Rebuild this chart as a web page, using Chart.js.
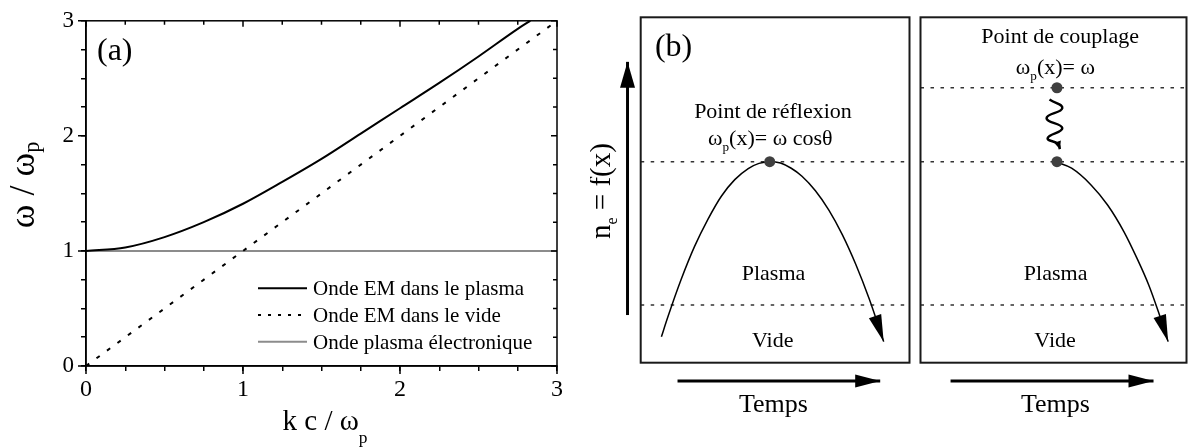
<!DOCTYPE html>
<html><head><meta charset="utf-8">
<script src="https://cdn.jsdelivr.net/npm/chart.js@4.4.1/dist/chart.umd.min.js"></script>
<style>
html,body{margin:0;padding:0;background:#fff;}
body{position:relative;width:1192px;height:447px;overflow:hidden;}
canvas{position:absolute;top:0;}
</style></head><body>
<canvas id="chartA" width="600" height="447" style="left:0;width:600px;height:447px"></canvas>
<canvas id="chartB1" width="325" height="447" style="left:590px;width:325px;height:447px"></canvas>
<canvas id="chartB2" width="277" height="447" style="left:915px;width:277px;height:447px"></canvas>
<script>
// ===== Panel (a): dispersion relations =====
const kPlasma     = [0, 0.25, 0.5, 0.75, 1, 1.25, 1.5, 1.75, 2, 2.25, 2.5, 2.75, 2.83];
const omegaPlasma = [1.00, 1.03, 1.12, 1.25, 1.41, 1.60, 1.80, 2.02, 2.24, 2.46, 2.69, 2.93, 3.00];
const kVide       = [0, 3];
const omegaVide   = [0, 3];
const kElec       = [0, 3];
const omegaElec   = [1, 1];
const seriesNames = ['Onde EM dans le plasma', 'Onde EM dans le vide', 'Onde plasma électronique'];
const rangeA      = [0, 3];
const tickStepA   = 0.25;
const xTitleParts = [['k c / ω'], ['p', 1]];
const yTitleParts = [['ω / ω'], ['p', 1]];
const panelTagA   = '(a)';

// ===== Panel (b): schematic (arbitrary units 0..10 in each box) =====
const reflT = [0.77, 1.00, 1.50, 2.00, 2.50, 3.00, 3.50, 4.00, 4.40, 4.80, 5.20, 5.60, 6.00, 6.50, 7.00, 7.50, 8.00, 8.50, 9.04];
const reflN = [0.75, 1.30, 2.40, 3.36, 4.15, 4.82, 5.30, 5.62, 5.77, 5.82, 5.78, 5.63, 5.40, 4.98, 4.42, 3.71, 2.85, 1.85, 0.61];
const reflPointT = [4.80];
const reflPointN = [5.82];
const reflLevels = [5.82, 1.67];
const coupT = [5.13, 5.68, 6.42, 7.04, 7.65, 8.14, 8.58, 8.94, 9.31];
const coupN = [5.80, 5.63, 5.14, 4.56, 3.79, 3.02, 2.25, 1.48, 0.61];
const coupPointsT = [5.13, 5.13];
const coupPointsN = [7.96, 5.82];
const waveT = [4.85, 5.33, 4.74, 5.33, 4.78, 5.18, 5.24];
const waveN = [7.62, 7.37, 7.08, 6.79, 6.50, 6.33, 6.18];
const coupLevels = [7.96, 5.82, 1.67];
const densAxisT = [-0.49, -0.49];
const densAxisN = [1.38, 8.71];
const timeLeftT = [1.37, 8.91];
const timeRightT = [1.13, 8.76];
const timeAxisN = [-0.53, -0.53];
const panelTagB = '(b)';
const txtRefl = 'Point de réflexion';
const txtCoup = 'Point de couplage';
const reflCondParts = [['ω'], ['p', 1], ['(x)= ω cosθ']];
const coupCondParts = [['ω'], ['p', 1], ['(x)= ω']];
const densLabelParts = [['n'], ['e', 1], [' = f(x)']];
const txtPlasma = 'Plasma', txtVide = 'Vide', txtTemps = 'Temps';

// ===== helpers =====
const FONT = '"Liberation Serif", "Times New Roman", Times, serif';
function drawRich(ctx, parts, x, y, o) {
  const size = o.size, subSize = size * (o.subScale || 0.6), shift = (o.subShift != null ? o.subShift : size * 0.3);
  ctx.save(); ctx.translate(x, y); if (o.rot) ctx.rotate(o.rot);
  ctx.fillStyle = o.color || '#000'; ctx.textBaseline = 'alphabetic'; ctx.textAlign = 'left';
  const w = parts.map(p => { ctx.font = (p[1] ? subSize : size) + 'px ' + FONT; return ctx.measureText(p[0]).width; });
  const total = w.reduce((a, b) => a + b, 0);
  let cx = o.align === 'left' ? 0 : (o.align === 'right' ? -total : -total / 2);
  parts.forEach((p, i) => { ctx.font = (p[1] ? subSize : size) + 'px ' + FONT; ctx.fillText(p[0], cx, p[1] ? shift : 0); cx += w[i]; });
  ctx.restore();
}
const pts = (xs, ys) => xs.map((v, i) => ({ x: v, y: ys[i] }));

// ===== Chart (a) =====
const decorA = {
  id: 'decorA',
  afterDraw(chart) {
    const { ctx, chartArea: a, scales: { x, y } } = chart;
    ctx.save();
    ctx.strokeStyle = '#000'; ctx.lineWidth = 1.5;
    ctx.strokeRect(a.left, a.top, a.right - a.left, a.bottom - a.top);
    ctx.beginPath();
    x.ticks.forEach(t => {
      const p = x.getPixelForValue(t.value), maj = Number.isInteger(t.value);
      ctx.moveTo(p, a.top); ctx.lineTo(p, a.top + (maj ? 6 : 4));
      if (maj) { ctx.moveTo(p, a.bottom); ctx.lineTo(p, a.bottom + 8); }
    });
    y.ticks.forEach(t => {
      const p = y.getPixelForValue(t.value), maj = Number.isInteger(t.value);
      ctx.moveTo(a.right, p); ctx.lineTo(a.right - (maj ? 6 : 4), p);
      if (maj) { ctx.moveTo(a.left, p); ctx.lineTo(a.left - 8, p); }
    });
    ctx.stroke();
    // legend
    const rows = [77.7, 51, 24.3];
    chart.data.datasets.forEach((ds, i) => {
      const yy = a.bottom - rows[i];
      ctx.save();
      ctx.strokeStyle = ds.borderColor; ctx.lineWidth = ds.borderWidth;
      ctx.setLineDash(ds.legendDash || []);
      ctx.beginPath(); ctx.moveTo(a.left + 172, yy); ctx.lineTo(a.left + 221, yy); ctx.stroke();
      ctx.restore();
      ctx.fillStyle = '#000'; ctx.font = '21px ' + FONT; ctx.textBaseline = 'middle'; ctx.textAlign = 'left';
      ctx.fillText(ds.label, a.left + 227, yy + 1.5);
    });
    drawRich(ctx, [[panelTagA]], a.left + 11, a.top + 39.5, { size: 32, align: 'left' });
    drawRich(ctx, xTitleParts, (a.left + a.right) / 2 + 3.5, a.bottom + 64, { size: 29, subScale: 0.6, subShift: 13 });
    drawRich(ctx, yTitleParts, a.left - 52, (a.top + a.bottom) / 2 - 8.5, { size: 36, rot: -Math.PI / 2, subScale: 0.62, subShift: 5 });
    ctx.restore();
  }
};

const axisCommon = (size) => ({
  type: 'linear', min: rangeA[0], max: rangeA[1],
  ticks: { stepSize: tickStepA, autoSkip: false, maxRotation: 0, color: '#000', font: { family: FONT, size: size },
           callback: v => Number.isInteger(v) ? String(v) : '' },
  grid: { drawOnChartArea: false, drawTicks: true, tickLength: 5, color: '#000', lineWidth: 1.5 },
  border: { display: true, color: '#000', width: 1.5 }
});
const xA = axisCommon(24); xA.ticks.padding = 4; xA.afterFit = s => { s.height = 81; };
const yA = axisCommon(23); yA.ticks.padding = 7; yA.afterFit = s => { s.width = 86; };

new Chart(document.getElementById('chartA'), {
  type: 'scatter',
  data: { datasets: [
    { label: seriesNames[0], data: pts(kPlasma, omegaPlasma), showLine: true, borderColor: '#000', backgroundColor: '#000',
      borderWidth: 2, pointRadius: 0, pointHoverRadius: 0, cubicInterpolationMode: 'monotone', legendDash: [] },
    { label: seriesNames[1], data: pts(kVide, omegaVide), showLine: true, borderColor: '#000', backgroundColor: '#000',
      borderWidth: 2, borderDash: [4, 9], pointRadius: 0, pointHoverRadius: 0, legendDash: [3, 7] },
    { label: seriesNames[2], data: pts(kElec, omegaElec), showLine: true, borderColor: '#8c8c8c', backgroundColor: '#8c8c8c',
      borderWidth: 2, pointRadius: 0, pointHoverRadius: 0, legendDash: [] }
  ]},
  options: {
    responsive: false, animation: false, events: [],
    layout: { padding: { top: 16.5, right: 43, left: 0, bottom: 0 } },
    plugins: { legend: { display: false }, tooltip: { enabled: false } },
    scales: { x: xA, y: yA }
  },
  plugins: [decorA]
});

// ===== Charts (b) =====
const lineDs = (xs, ys, extra) => Object.assign({ data: pts(xs, ys), showLine: true, pointRadius: 0, pointHoverRadius: 0,
  borderColor: '#000', backgroundColor: '#000', borderWidth: 1.5, clip: false }, extra || {});
const levelDs = lv => lineDs([0, 10], [lv, lv], { borderDash: [3.5, 6.5], borderColor: '#333', borderWidth: 1.5 });
const dotDs = (xs, ys) => ({ data: pts(xs, ys), showLine: false, pointRadius: 5.5, pointHoverRadius: 5.5,
  pointBackgroundColor: '#404040', backgroundColor: '#404040', pointBorderWidth: 0, borderWidth: 0, clip: false });

function boxChart(id, pad, datasets, texts) {
  return new Chart(document.getElementById(id), {
    type: 'scatter', data: { datasets },
    options: {
      responsive: false, animation: false, events: [],
      layout: { padding: pad },
      plugins: { legend: { display: false }, tooltip: { enabled: false } },
      scales: { x: { type: 'linear', display: false, min: 0, max: 10 }, y: { type: 'linear', display: false, min: 0, max: 10 } }
    },
    plugins: [{
      id: 'boxDecor',
      afterDatasetsDraw(chart) {
        const { ctx, chartArea: a, scales: { x, y } } = chart;
        ctx.save();
        chart.data.datasets.forEach((ds, i) => {
          if (!ds.arrowHead) return;
          const el = chart.getDatasetMeta(i).data;
          const p1 = el[el.length - 1], p0 = el[el.length - 2];
          const ang = Math.atan2(p1.y - p0.y, p1.x - p0.x);
          ctx.save(); ctx.translate(p1.x, p1.y); ctx.rotate(ang);
          ctx.beginPath(); ctx.moveTo(0, 0); ctx.lineTo(-ds.arrowHead.len, ds.arrowHead.w / 2);
          ctx.lineTo(-ds.arrowHead.len, -ds.arrowHead.w / 2); ctx.closePath();
          ctx.fillStyle = ds.borderColor; ctx.fill(); ctx.restore();
        });
        ctx.strokeStyle = '#1a1a1a'; ctx.lineWidth = 2;
        ctx.strokeRect(a.left, a.top, a.right - a.left, a.bottom - a.top);
        texts.forEach(t => drawRich(ctx, t.parts, x.getPixelForValue(t.x), y.getPixelForValue(t.y), t.o));
        ctx.restore();
      }
    }]
  });
}

boxChart('chartB1', { left: 50.7, right: 2.3, top: 17.3, bottom: 84.3 }, [
  dotDs(reflPointT, reflPointN),
  lineDs(reflT, reflN, { cubicInterpolationMode: 'monotone', arrowHead: { len: 27, w: 13 } }),
  levelDs(reflLevels[0]), levelDs(reflLevels[1]),
  lineDs(densAxisT, densAxisN, { borderWidth: 3, arrowHead: { len: 26, w: 15 } }),
  lineDs(timeLeftT, timeAxisN, { borderWidth: 3, arrowHead: { len: 25, w: 13 } })
], [
  { parts: [[panelTagB]], x: 0.53, y: 8.88, o: { size: 32, align: 'left' } },
  { parts: [[txtRefl]], x: 4.92, y: 7.08, o: { size: 22 } },
  { parts: reflCondParts, x: 4.82, y: 6.30, o: { size: 22, subScale: 0.6, subShift: 6 } },
  { parts: [[txtPlasma]], x: 4.94, y: 2.39, o: { size: 22 } },
  { parts: [[txtVide]], x: 4.91, y: 0.46, o: { size: 22 } },
  { parts: [[txtTemps]], x: 4.94, y: -1.42, o: { size: 26 } },
  { parts: densLabelParts, x: -1.13, y: 4.97, o: { size: 29, rot: -Math.PI / 2, subScale: 0.55, subShift: 7 } }
]);

boxChart('chartB2', { left: 4.3, right: 1.5, top: 17.3, bottom: 84.3 }, [
  dotDs(coupPointsT, coupPointsN),
  lineDs(coupT, coupN, { cubicInterpolationMode: 'monotone', arrowHead: { len: 27, w: 13 } }),
  lineDs(waveT, waveN, { tension: 0.5, borderWidth: 2.5, arrowHead: { len: 8, w: 7 } }),
  levelDs(coupLevels[0]), levelDs(coupLevels[1]), levelDs(coupLevels[2]),
  lineDs(timeRightT, timeAxisN, { borderWidth: 3, arrowHead: { len: 25, w: 13 } })
], [
  { parts: [[txtCoup]], x: 5.25, y: 9.25, o: { size: 22 } },
  { parts: coupCondParts, x: 5.07, y: 8.36, o: { size: 22, subScale: 0.6, subShift: 6 } },
  { parts: [[txtPlasma]], x: 5.08, y: 2.39, o: { size: 22 } },
  { parts: [[txtVide]], x: 5.06, y: 0.46, o: { size: 22 } },
  { parts: [[txtTemps]], x: 5.07, y: -1.42, o: { size: 26 } }
]);
</script>
</body></html>
